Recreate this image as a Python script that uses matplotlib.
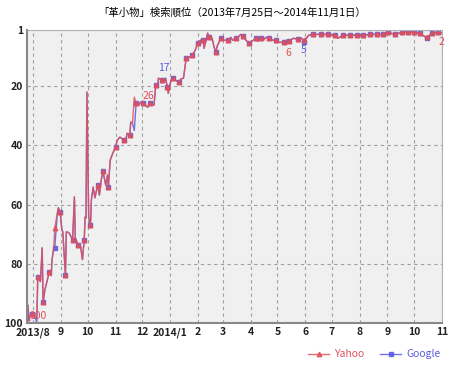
import pandas as pd
import numpy as np
import matplotlib
matplotlib.use('Agg')
import matplotlib.pyplot as plt

plt.rcParams['font.family'] = ['Noto Sans CJK JP', 'DejaVu Sans']

title = '「革小物」検索順位（2013年7月25日～2014年11月1日）'
start = pd.Timestamp('2013-07-25')
end = pd.Timestamp('2014-11-01')

# yahoo rank (day offset from 2013/7/25, rank)
yahoo_days = [0, 1, 2, 6, 9, 11, 12, 15, 17, 18, 20, 22, 25, 27, 28, 30, 31, 34, 35, 37,
              39, 40, 43, 44, 47, 51, 53, 54, 57, 60, 62, 64, 65, 66, 67, 69, 71, 72, 74, 76,
              79, 81, 83, 85, 88, 90, 91, 93, 96, 99, 101, 104, 108, 110, 112, 115, 116, 118, 120, 122,
              125, 127, 130, 135, 138, 142, 144, 146, 147, 151, 153, 155, 157, 158, 161, 163, 166, 170, 172, 175,
              178, 181, 183, 185, 188, 191, 194, 197, 198, 200, 202, 204, 207, 209, 211, 213, 217, 220, 225, 228,
              230, 234, 236, 239, 242, 245, 248, 253, 256, 258, 262, 265, 267, 271, 275, 279, 282, 287, 290, 293,
              298, 303, 307, 310, 315, 320, 329, 337, 344, 348, 353, 361, 369, 376, 384, 391, 398, 404, 411, 419,
              426, 433, 439, 447, 453, 460, 464]
yahoo_rank = [98.2, 93.9, 97.7, 97, 98, 97.7, 84.5, 86, 74.6, 93, 88.8, 86.4, 82.7, 84, 78.6, 74.6, 67.9, 62.8, 61.1, 62.5,
              68.5, 69.2, 83.7, 69.2, 69.5, 71.9, 57.4, 71.2, 73.5, 74.2, 78.6, 71.9, 64.2, 64.5, 22, 64.2, 66.8, 58.4, 54.1, 57.7,
              53.4, 56.8, 51.7, 48.7, 53.4, 50, 54.1, 45, 42.6, 40.6, 38.2, 37.2, 38.2, 38.9, 35.9, 36.6, 32.1, 32.5, 23.7, 25.8,
              26.4, 25.4, 25.8, 27.1, 25.8, 26.4, 19.7, 20.4, 17.3, 18, 18.7, 17.3, 20.4, 22.4, 18, 17.3, 18, 18.7, 17.6, 17.3,
              10.6, 10.2, 10.2, 9.6, 7.9, 5.5, 4.5, 4.5, 7.2, 4.8, 2.1, 3.5, 3.8, 6.5, 8.5, 6.2, 3.8, 4.5, 4.5, 3.5,
              4.5, 3.8, 3.5, 2.5, 3.2, 4.5, 5.5, 4.5, 3.8, 4.8, 3.8, 4.2, 3.5, 3.8, 4.5, 4.5, 5.2, 5.2, 4.5, 4.8,
              3.8, 4.2, 3.8, 4.5, 2.8, 2.5, 2.5, 2.5, 2.8, 3.8, 2.8, 2.8, 2.8, 2.8, 2.5, 2.5, 2.5, 1.8, 2.5, 1.8,
              1.8, 1.8, 2.1, 3.5, 2.1, 1.8, 2.1]

# google mostly on top of yahoo, these days differ
google_diff = {11: 100, 26: 91, 31: 74.6, 120: 35, 310: 5, 447: 3.8}

labels_text = ['100', '26', '17', '6', '5', '2']
labels_day = [12, 136, 153, 292, 309, 463]
labels_rank = [97.5, 23.4, 13.9, 8.9, 7.9, 5.2]
labels_color = ['r', 'r', 'g', 'r', 'g', 'r']

tick_months = pd.date_range('2013-08-01', '2014-11-01', freq='MS')
tick_labels = ['2013/8', '9', '10', '11', '12', '2014/1', '2', '3', '4', '5', '6', '7', '8', '9', '10', '11']

red = '#e0505a'
blue = '#5a5ae0'

yahoo_dates = start + pd.to_timedelta(yahoo_days, unit='D')
google_rank = [google_diff.get(d, r) for d, r in zip(yahoo_days, yahoo_rank)]

# markers roughly once a week
marks = []
last = -100
for i, d in enumerate(yahoo_days):
    if d - last >= 6:
        marks.append(i)
        last = d

fig = plt.figure(figsize=(4.5, 3.65), dpi=100)
ax = fig.add_axes([0.06, 0.115, 0.922, 0.803])
ax.set_facecolor('#f0f0f0')

ax.plot(yahoo_dates, google_rank, color=blue, lw=1.0, alpha=0.85, marker='s', ms=3,
        markevery=marks, label='Google')
ax.plot(yahoo_dates, yahoo_rank, color=red, lw=1.0, alpha=0.85, marker='^', ms=3.3,
        markevery=marks, label='Yahoo')

for t, d, r, c in zip(labels_text, labels_day, labels_rank, labels_color):
    ax.text(start + pd.Timedelta(days=d), r, t, color=red if c == 'r' else blue,
            fontsize=7.5, ha='center', va='center')

ax.set_xlim(start, end)
ax.set_ylim(100, 1)
ax.set_yticks([1, 20, 40, 60, 80, 100])
ax.set_yticklabels(['1', '20', '40', '60', '80', '100'], fontsize=7.5, fontweight='bold')
ax.set_xticks(tick_months)
ax.set_xticklabels(tick_labels, fontsize=7.5, fontweight='bold')
ax.tick_params(length=0, pad=3, colors='#222222')
ax.grid(True, color='#a0a0a0', ls=(0, (3, 3)), lw=0.8)

for s in ['top', 'right']:
    ax.spines[s].set_color('#b0b0b0')
    ax.spines[s].set_linewidth(0.8)
for s in ['left', 'bottom']:
    ax.spines[s].set_color('#888888')
    ax.spines[s].set_linewidth(1.5)

fig.text(0.515, 0.965, title, ha='center', va='center', fontsize=7.5)

h, l = ax.get_legend_handles_labels()
fig.legend(h[::-1], l[::-1], loc='lower right', bbox_to_anchor=(1.0, -0.01), ncol=2, frameon=False,
           fontsize=7.5, labelcolor='linecolor', handlelength=2.0, handletextpad=0.5, columnspacing=1.5)

fig.savefig('out.png', dpi=100)
